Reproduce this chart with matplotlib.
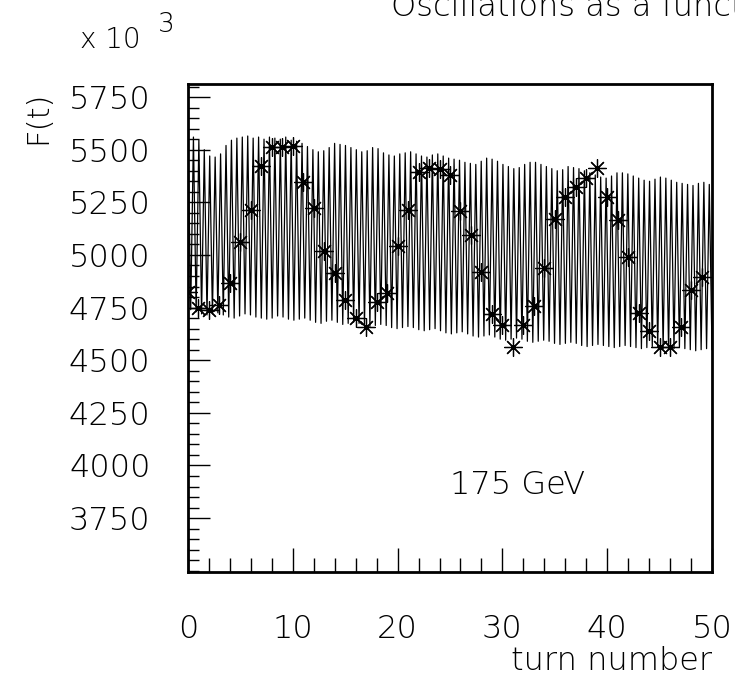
import numpy as np
import matplotlib
matplotlib.use('Agg')
import matplotlib.pyplot as plt
from matplotlib.ticker import MultipleLocator

# values in units of 10^3
# maxima and minima of the fast oscillation (about 1.93 cycles per turn)
peaks = [5570, 5560, 5545, 5500, 5470, 5465, 5480, 5520, 5545, 5555,
         5560, 5565, 5555, 5560, 5550, 5560, 5555, 5550, 5560, 5545,
         5540, 5530, 5515, 5500, 5490, 5495, 5510, 5530, 5525, 5520,
         5510, 5500, 5490, 5495, 5510, 5505, 5485, 5475, 5470, 5480,
         5485, 5490, 5480, 5470, 5465, 5475, 5480, 5470, 5460, 5455,
         5450, 5440, 5435, 5430, 5445, 5460, 5455, 5445, 5430, 5420,
         5410, 5415, 5430, 5440, 5440, 5430, 5420, 5410, 5400, 5405,
         5420, 5415, 5410, 5400, 5390, 5380, 5370, 5365, 5375, 5390,
         5390, 5385, 5375, 5365, 5355, 5350, 5360, 5370, 5365, 5355,
         5345, 5340, 5335, 5330, 5340, 5345, 5335]
troughs = [4740, 4730, 4720, 4715, 4720, 4725, 4715, 4705, 4700, 4710,
           4720, 4715, 4705, 4700, 4695, 4700, 4710, 4705, 4695, 4690,
           4695, 4700, 4690, 4680, 4675, 4685, 4690, 4680, 4670, 4675,
           4680, 4675, 4665, 4660, 4665, 4670, 4665, 4655, 4650, 4655,
           4660, 4655, 4645, 4640, 4645, 4650, 4640, 4630, 4625, 4630,
           4635, 4625, 4615, 4610, 4615, 4620, 4610, 4600, 4595, 4600,
           4605, 4600, 4590, 4585, 4590, 4595, 4590, 4580, 4575, 4580,
           4585, 4580, 4570, 4565, 4570, 4575, 4570, 4565, 4560, 4565,
           4570, 4565, 4560, 4555, 4560, 4565, 4560, 4555, 4550, 4555,
           4560, 4555, 4550, 4545, 4550, 4555, 4550]

# value sampled once per turn (stars)
turns = list(range(50))
sampled = [4825, 4748, 4738, 4762, 4866, 5061, 5213, 5422, 5512, 5512,
           5517, 5346, 5223, 5018, 4914, 4786, 4700, 4657, 4776, 4819,
           5042, 5213, 5394, 5413, 5408, 5382, 5208, 5094, 4919, 4719,
           4667, 4562, 4667, 4757, 4938, 5170, 5275, 5322, 5365, 5413,
           5275, 5166, 4990, 4724, 4640, 4562, 4562, 4660, 4835, 4895]

cycle = 1 / 1.93
n = len(peaks)
t_line = np.empty(2 * n)
f_line = np.empty(2 * n)
t_line[0::2] = np.arange(n) * cycle
t_line[1::2] = np.arange(n) * cycle + cycle / 2
f_line[0::2] = peaks
f_line[1::2] = troughs

plt.rcParams['font.family'] = ['DejaVu Sans']
plt.rcParams['font.weight'] = 'light'

fig = plt.figure(figsize=(7.35, 6.78), dpi=100)
ax = fig.add_axes([188 / 735, 1 - 572 / 678, 524 / 735, 488 / 678])

ax.plot(t_line, f_line, color='black', lw=0.9)
ax.plot(turns, sampled, linestyle='none', marker=(8, 2, 0), ms=13,
        mec='black', mew=0.9, color='black')

ax.set_xlim(0, 50)
ax.set_ylim(3494, 5812)
ax.xaxis.set_major_locator(MultipleLocator(10))
ax.xaxis.set_minor_locator(MultipleLocator(2))
ax.yaxis.set_major_locator(MultipleLocator(250))
ax.yaxis.set_minor_locator(MultipleLocator(50))
ax.tick_params(which='both', direction='in', top=False, right=False, width=1)
ax.tick_params(axis='y', which='major', length=16, pad=27, labelsize=23)
ax.tick_params(axis='y', which='minor', length=8)
ax.tick_params(axis='x', which='major', length=17, pad=30, labelsize=23)
ax.tick_params(axis='x', which='minor', length=10)
ax.set_yticks([3750, 4000, 4250, 4500, 4750, 5000, 5250, 5500, 5750])
for s in ax.spines.values():
    s.set_linewidth(2)

ax.text(31.4, 3907, '175 GeV', ha='center', va='center', fontsize=23)

fig.text(80 / 735, 1 - 48 / 678, 'x 10', fontsize=20, ha='left', va='baseline')
fig.text(158 / 735, 1 - 32 / 678, '3', fontsize=19, ha='left', va='baseline')
fig.text(38 / 735, 1 - 117 / 678, 'F(t)', rotation=90, fontsize=22, ha='center', va='center')
fig.text(712 / 735, 1 - 670 / 678, 'turn number', fontsize=23, ha='right', va='baseline')
fig.text(391 / 735, 1 - 16 / 678, 'Oscillations as a function of turn number',
         fontsize=23, ha='left', va='baseline')

fig.savefig('out.png', dpi=100)
